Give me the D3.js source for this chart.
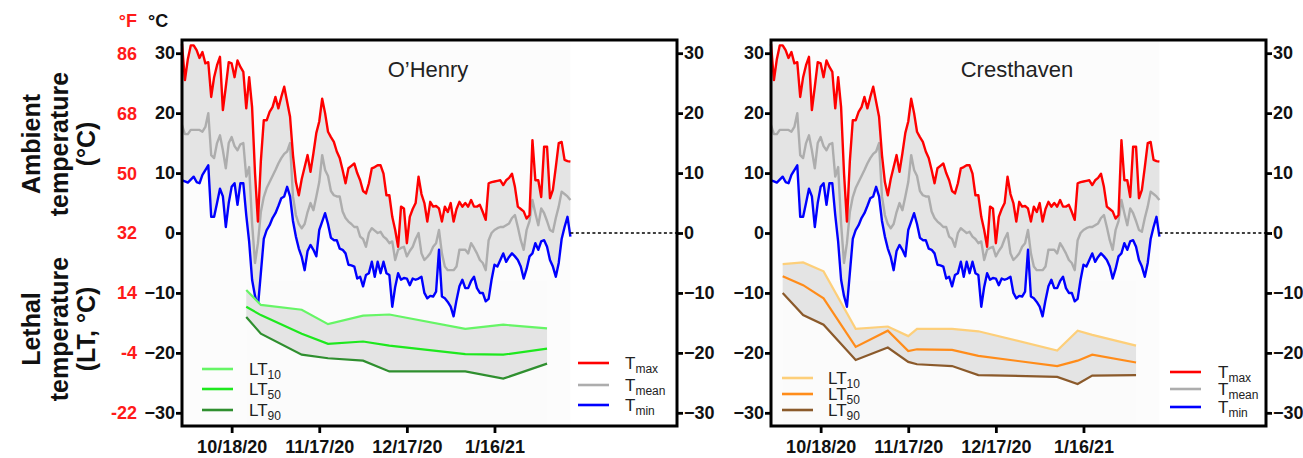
<!DOCTYPE html>
<html>
<head>
<meta charset="utf-8">
<script src="https://cdn.jsdelivr.net/npm/d3@7"></script>
<style>
  body { margin: 0; background: #fff; }
  svg { font-family: "Liberation Sans", Arial, Helvetica, sans-serif; }
</style>
</head>
<body>
<div id="chart"></div>
<script>
// daily ambient temperatures, 10/1/20 .. 2/11/21 (same station for both panels)
var tMax = [31.5, 25.5, 29, 31.3, 31.3, 30.5, 29.2, 30.2, 28.3, 28.5,
    22.7, 26, 28, 29.4, 20.5, 24.4, 28.5, 28.3, 26, 28.8,
    27.7, 26.9, 20.8, 26, 21, 10, 1.9, 12, 18.8, 18.8,
    20.2, 21, 22.7, 20.8, 22.7, 24.4, 21.9, 19.4, 13, 8.5,
    6.3, 9, 11, 13, 10.2, 13.3, 16.7, 18.6, 22.4, 20,
    16.9, 16, 15.2, 13.6, 12.5, 10.5, 8.3, 10.8, 11.2, 11.6,
    10, 8.8, 7, 6.6, 8.3, 10.8, 11, 11.3, 11.3, 9.9,
    6.3, 6.3, 2.7, 0.5, -2.3, 4.4, 4.1, -1.7, 2.7, 4,
    5, 9.4, 6.5, 5, 1.9, 5.2, 4.4, 4.5, 4.1, 1.9,
    4.4, 3.5, 5, 1.9, 4, 5.2, 4.4, 5, 4.4, 5.5,
    4.4, 4.4, 4.7, 3.5, 2.2, 8.3, 8.5, 8.6, 8.7, 8.8,
    8, 8.8, 9.2, 9.9, 7.7, 4.4, 4, 3.6, 2.4, 3,
    15.5, 8.8, 8.8, 6, 14.4, 14.4, 5.8, 7.2, 11, 15,
    15.2, 12.2, 12, 11.9];
var tMean = [18, 16.5, 16.5, 17.2, 17.2, 17.2, 17.2, 16.9, 17.7, 20,
    13, 12.5, 15, 16.3, 13.8, 10.8, 15, 16, 14.5, 13.8,
    14.8, 15, 9.4, 11, 1.6, -5, -1.7, 3.5, 6, 7.5,
    8.5, 9.5, 10.5, 11.6, 12.5, 13.2, 13.6, 15, 6.1, 3,
    1.5, 0.8, 1.5, 3.5, 5, 3.8, 6.1, 8.5, 13, 10.5,
    9.5, 7, 6.3, 6.1, 6.1, 3.6, 2.5, 1.9, 1.5, 1,
    1, -0.6, -1, -2.3, 0, 0.8, 0.4, 0, 0.2, -0.6,
    -1, -1.7, -1.4, -4.5, -2.8, -2.5, -2.3, -3.9, -3, -2.3,
    -1, 0, -3.4, -4.5, -4, -3.4, -2.3, -1.7, 0.5, -3.4,
    -5.6, -6.2, -6.2, -6.2, -5.6, -2.8, -2.8, -2.8, -3.4, -1.7,
    -2.5, -3.4, -4.5, -5, -6.2, -1.2, 0, 0.5, 0.8, 1,
    1, 1.3, 1.6, 2.5, 3, 1, -1.2, -2.8, 0.5, 2,
    5.5, 3.3, 1.3, 4.1, 3.3, 2, 0.5, 0.2, 2.5, 4.4,
    6.9, 6.5, 6.1, 5.5];
var tMin = [8.8, 8.6, 8.4, 8.9, 9.4, 8.5, 8.3, 9.7, 10.5, 11.3,
    2.7, 2.7, 5, 7.4, 6.1, 1, 5, 7.7, 8.3, 4.7,
    8.3, 8.3, 3, -1.5, -7.8, -10.5, -12.3, -6.7, -1, 0.5,
    1.3, 2.5, 3.3, 4.5, 5.8, 6.1, 7.7, 6.1, 2, -0.6,
    -2.6, -4, -6.2, -3, -2, -2.8, -3.9, 0.5, 1.9, 3.3,
    1.5, -0.8, -1.2, -1.2, -2.6, -2.8, -3.4, -5.3, -5.4, -5.6,
    -7.6, -7.3, -8.9, -7, -6.7, -4.8, -7.3, -4.8, -6.7, -4.8,
    -6.7, -7, -12.3, -9, -6.7, -7.8, -7.5, -7.6, -8.7, -7.6,
    -7.8, -7.6, -7.3, -10, -10.9, -10.5, -10.6, -9.8, -2.8, -10.6,
    -10.9, -11.5, -12.3, -13.9, -11.2, -8.9, -7.8, -9.2, -9.2, -8,
    -7.3, -9.2, -10, -10, -11.4, -11, -7.8, -5.3, -5.6, -4.5,
    -3.4, -4.8, -4, -3.4, -3.9, -4.5, -5.6, -7.6, -6, -3.9,
    -3.4, -1.7, -2.8, -1.4, -1.2, -2.3, -4.5, -5.6, -7.3, -5,
    -1, 1, 2.7, -0.6];

// lethal temperatures, O'Henry
var ohDates = ["2020-10-23", "2020-10-28", "2020-11-11", "2020-11-20", "2020-12-02",
    "2020-12-11", "2021-01-06", "2021-01-19", "2021-02-03"];
var ohLT10 = [-9.5, -12, -12.8, -15.2, -13.8, -13.6, -16, -15.3, -15.9];
var ohLT50 = [-12.3, -13.7, -16.8, -18.5, -18.1, -18.8, -20.2, -20.3, -19.3];
var ohLT90 = [-14, -16.8, -20.3, -20.9, -21.3, -23.1, -23.1, -24.3, -21.8];

// lethal temperatures, Cresthaven
var crDates = ["2020-10-05", "2020-10-12", "2020-10-19", "2020-10-30", "2020-11-10",
    "2020-11-17", "2020-11-20", "2020-12-02", "2020-12-11", "2021-01-07",
    "2021-01-14", "2021-01-19", "2021-02-03"];
var crLT10 = [-5.2, -4.9, -6.4, -16, -15.6, -17.2, -16, -16, -16.4, -19.6, -16.3, -17, -18.8];
var crLT50 = [-7.2, -8.7, -10.9, -19, -16.3, -19.7, -19.4, -19.5, -20.5, -22.2, -21.3, -20.3, -21.6];
var crLT90 = [-10, -13.7, -15.3, -21.2, -19.1, -21.5, -21.9, -22.2, -23.7, -24, -25.2, -23.8, -23.7];

var yTicks = [-30, -20, -10, 0, 10, 20, 30];
var fTicks = ["-22", "-4", "14", "32", "50", "68", "86"];
var xTicks = ["2020-10-18", "2020-11-17", "2020-12-17", "2021-01-16"];

var parse = d3.timeParse("%Y-%m-%d");
var start = parse("2020-10-01");
var days = tMax.map(function(d, i) { return d3.timeDay.offset(start, i); });

var width = 1303, height = 458;
var svg = d3.select("#chart").append("svg")
    .attr("width", width)
    .attr("height", height);

var plotTop = 40, plotBottom = 426;
var y = d3.scaleLinear().domain([-32.2, 32.2]).range([plotBottom, plotTop]);

function drawPanel(p) {
    var x = d3.scaleTime()
        .domain([start, new Date(2021, 2, 19, 12)])
        .range([p.left, p.right]);
    var g = svg.append("g");

    // faint backgrounds behind the series
    var ltD = p.dates.map(parse);
    g.append("rect")
        .attr("x", x(days[0])).attr("y", plotTop)
        .attr("width", x(days[days.length - 1]) - x(days[0]))
        .attr("height", plotBottom - plotTop)
        .attr("fill", "#fcfcfc");
    g.append("rect")
        .attr("x", x(ltD[0])).attr("y", y(-8))
        .attr("width", x(ltD[ltD.length - 1]) - x(ltD[0]))
        .attr("height", plotBottom - y(-8))
        .attr("fill", "#fbfbfb");

    // ambient band + lines
    var idx = d3.range(tMax.length);
    g.append("path").datum(idx)
        .attr("fill", "#e4e4e4")
        .attr("d", d3.area()
            .x(function(i) { return x(days[i]); })
            .y0(function(i) { return y(tMin[i]); })
            .y1(function(i) { return y(tMax[i]); }));

    var tSeries = [
        {v: tMean, c: "#adadad"},
        {v: tMin, c: "#0000ff"},
        {v: tMax, c: "#ff0000"}
    ];
    tSeries.forEach(function(s) {
        g.append("path").datum(idx)
            .attr("fill", "none")
            .attr("stroke", s.c)
            .attr("stroke-width", 2.4)
            .attr("stroke-linejoin", "round")
            .attr("d", d3.line()
                .x(function(i) { return x(days[i]); })
                .y(function(i) { return y(s.v[i]); }));
    });

    // lethal band + lines
    var li = d3.range(ltD.length);
    g.append("path").datum(li)
        .attr("fill", "#e4e4e4")
        .attr("d", d3.area()
            .x(function(i) { return x(ltD[i]); })
            .y0(function(i) { return y(p.lt90[i]); })
            .y1(function(i) { return y(p.lt10[i]); }));
    [[p.lt10, p.colors[0]], [p.lt50, p.colors[1]], [p.lt90, p.colors[2]]].forEach(function(s) {
        g.append("path").datum(li)
            .attr("fill", "none")
            .attr("stroke", s[1])
            .attr("stroke-width", 2.2)
            .attr("d", d3.line()
                .x(function(i) { return x(ltD[i]); })
                .y(function(i) { return y(s[0][i]); }));
    });

    // dotted zero line after the data
    g.append("line")
        .attr("x1", x(days[days.length - 1])).attr("x2", p.right)
        .attr("y1", y(0)).attr("y2", y(0))
        .attr("stroke", "#000")
        .attr("stroke-width", 1.6)
        .attr("stroke-dasharray", "3,2.5");

    // axes
    var yl = g.append("g")
        .attr("transform", "translate(" + p.left + ",0)")
        .call(d3.axisLeft(y).tickValues(yTicks).tickSize(6).tickPadding(1));
    var yr = g.append("g")
        .attr("transform", "translate(" + p.right + ",0)")
        .call(d3.axisRight(y).tickValues(yTicks).tickSize(6).tickPadding(1));
    var xa = g.append("g")
        .attr("transform", "translate(0," + plotBottom + ")")
        .call(d3.axisBottom(x).tickValues(xTicks.map(parse))
            .tickFormat(d3.timeFormat("%-m/%-d/%y")).tickSize(7).tickPadding(7));
    [yl, yr, xa].forEach(function(a) {
        a.select(".domain").remove();
        a.selectAll(".tick line").attr("stroke", "#000").attr("stroke-width", 2.8);
        a.selectAll(".tick text")
            .attr("fill", "#111")
            .style("font-size", "18px")
            .style("font-weight", "bold");
    });

    // frame
    g.append("rect")
        .attr("x", p.left).attr("y", plotTop)
        .attr("width", p.right - p.left).attr("height", plotBottom - plotTop)
        .attr("fill", "none")
        .attr("stroke", "#000")
        .attr("stroke-width", 3);

    // title
    g.append("text")
        .attr("x", p.titleX).attr("y", 77)
        .attr("text-anchor", "middle")
        .attr("fill", "#222")
        .style("font-size", "22px")
        .text(p.title);

    // legends
    function legend(items, lx, tx, ys) {
        items.forEach(function(it, i) {
            g.append("line")
                .attr("x1", lx).attr("x2", lx + 31)
                .attr("y1", ys[i]).attr("y2", ys[i])
                .attr("stroke", it.c)
                .attr("stroke-width", 2.6);
            var t = g.append("text")
                .attr("x", tx).attr("y", ys[i] + 6)
                .attr("fill", "#222")
                .style("font-size", "17px");
            t.append("tspan").text(it.base);
            t.append("tspan")
                .attr("dy", 4)
                .style("font-size", "12px")
                .text(it.sub);
        });
    }
    legend([
        {base: "LT", sub: "10", c: p.colors[0]},
        {base: "LT", sub: "50", c: p.colors[1]},
        {base: "LT", sub: "90", c: p.colors[2]}
    ], p.ltLeg[0], p.ltLeg[1], p.ltLeg[2]);
    legend([
        {base: "T", sub: "max", c: "#ff0000"},
        {base: "T", sub: "mean", c: "#adadad"},
        {base: "T", sub: "min", c: "#0000ff"}
    ], p.tLeg[0], p.tLeg[1], p.tLeg[2]);
}

drawPanel({
    left: 182, right: 677, title: "O\u2019Henry", titleX: 428,
    dates: ohDates, lt10: ohLT10, lt50: ohLT50, lt90: ohLT90,
    colors: ["#66f566", "#1ee81e", "#2f8f2f"],
    ltLeg: [202, 249, [369, 389, 410]],
    tLeg: [578, 625, [363, 385, 405]]
});
drawPanel({
    left: 771, right: 1266, title: "Cresthaven", titleX: 1017,
    dates: crDates, lt10: crLT10, lt50: crLT50, lt90: crLT90,
    colors: ["#fdcf7a", "#ff8c1a", "#8b5a2b"],
    ltLeg: [782, 828, [378, 394, 410]],
    tLeg: [1170, 1218, [372, 389, 407]]
});

// Fahrenheit labels
var fg = svg.append("g");
fg.selectAll("text.f").data(yTicks).enter().append("text")
    .attr("class", "f")
    .attr("x", 137)
    .attr("y", function(d) { return y(d); })
    .attr("dy", "0.36em")
    .attr("text-anchor", "end")
    .attr("fill", "#ff1a1a")
    .style("font-size", "18px")
    .style("font-weight", "bold")
    .text(function(d, i) { return fTicks[i]; });
fg.append("text").attr("x", 137).attr("y", 27).attr("text-anchor", "end")
    .attr("fill", "#ff1a1a").style("font-size", "18px").style("font-weight", "bold")
    .text("\u00b0F");
fg.append("text").attr("x", 148).attr("y", 27)
    .attr("fill", "#111").style("font-size", "18px").style("font-weight", "bold")
    .text("\u00b0C");

// left axis titles
function axisTitle(lines, cy) {
    var t = svg.append("text")
        .attr("transform", "translate(0," + cy + ") rotate(-90)")
        .attr("text-anchor", "middle")
        .attr("fill", "#111")
        .style("font-size", "25px")
        .style("font-weight", "bold");
    lines.forEach(function(l, i) {
        t.append("tspan").attr("x", 0).attr("y", 40 + i * 27.5).text(l);
    });
}
axisTitle(["Ambient", "temperature", "(\u00b0C)"], 144);
axisTitle(["Lethal", "temperature", "(LT, \u00b0C)"], 329);
</script>
</body>
</html>
